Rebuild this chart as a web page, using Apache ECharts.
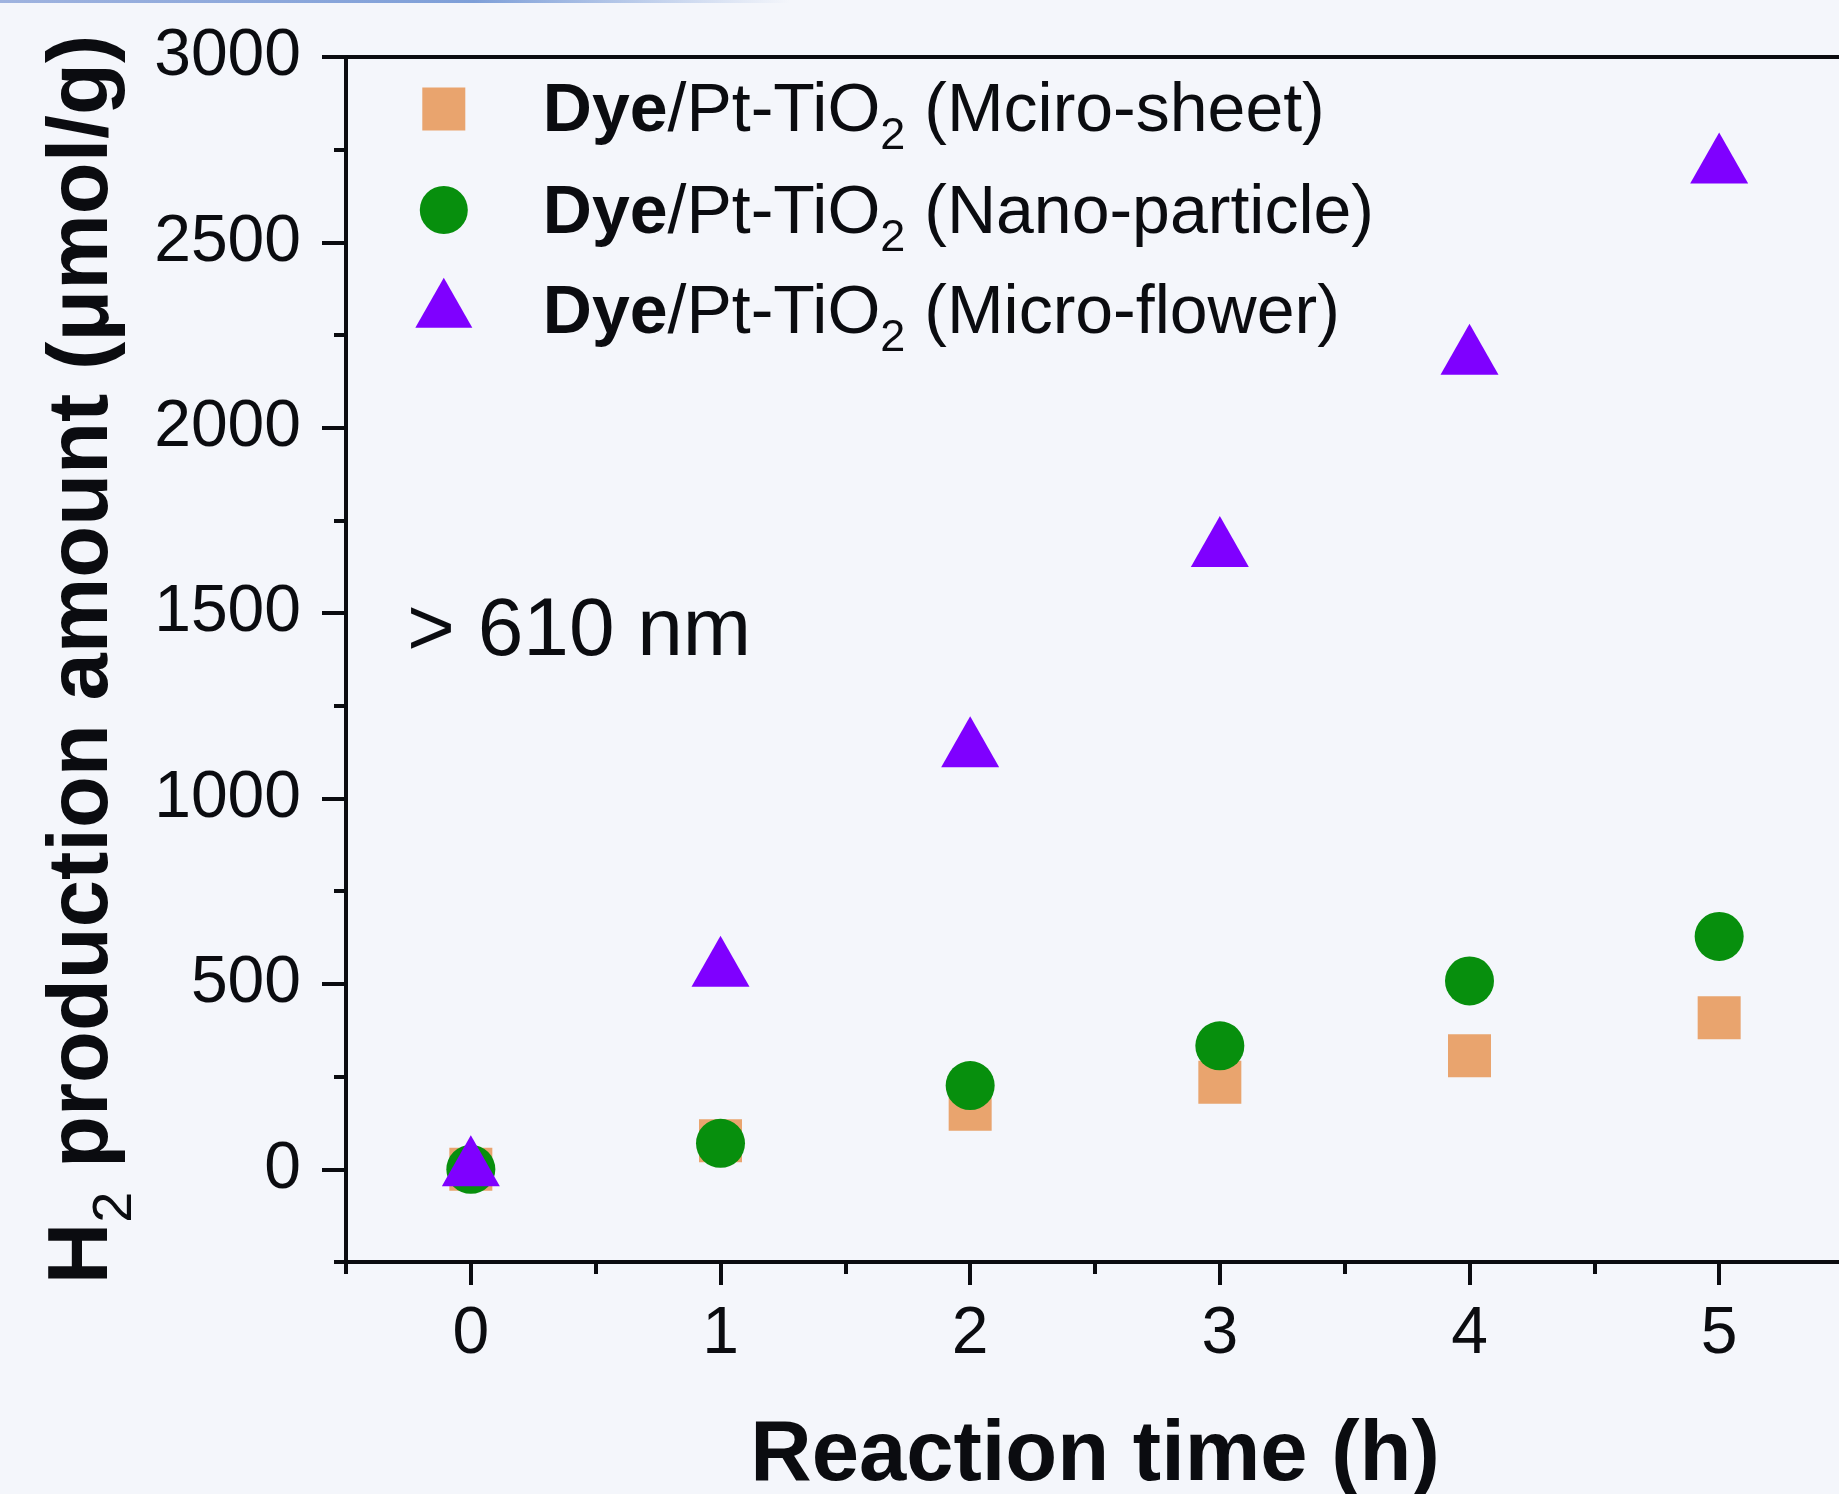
<!DOCTYPE html>
<html>
<head>
<meta charset="utf-8">
<title>H2 production</title>
<script src="https://cdn.jsdelivr.net/npm/echarts@6/dist/echarts.min.js"></script>
<style>
  html, body { margin: 0; padding: 0; background: #f4f6fb; }
  #chart { width: 1839px; height: 1494px; }
</style>
</head>
<body>
<div id="chart"></div>
<script>
// data
const times = [0, 1, 2, 3, 4, 5]
const microSheet = [0, 77, 162, 235, 306, 409]
const nanoParticle = [0, 70, 226, 333, 508, 628]
const microFlower = [0, 538, 1130, 1670, 2189, 2705]

const seriesNames = [
    'Dye/Pt-TiO2 (Mciro-sheet)',
    'Dye/Pt-TiO2 (Nano-particle)',
    'Dye/Pt-TiO2 (Micro-flower)',
]
const nameTails = [' (Mciro-sheet)', ' (Nano-particle)', ' (Micro-flower)']
const colors = ['#e9a46e', '#078f0d', '#7f00ff']

const xMajor = [0, 1, 2, 3, 4, 5]
const yMajor = [0, 500, 1000, 1500, 2000, 2500, 3000]

const FONT = 'Liberation Sans, Arial, sans-serif'
const INK = '#0b0c10'

const pairs = (ys) => times.map((t, i) => [t, ys[i]])

// one legend box per row, so each icon keeps its own size
const legendRow = (idx, left, top, icon, h, dy) => ({
    data: [{ name: seriesNames[idx], icon: icon }],
    left: left,
    top: top,
    padding: 0,
    itemWidth: 188,
    itemHeight: h,
    selectedMode: false,
    formatter: () => '{b|Dye}{r|/Pt-TiO}{s|2}{r|' + nameTails[idx] + '}',
    textStyle: {
        color: INK,
        fontFamily: FONT,
        rich: {
            b: { fontSize: 68, fontWeight: 'bold', lineHeight: 40, padding: [2 * dy, 0, 0, 0], fontFamily: FONT, color: INK },
            r: { fontSize: 68, lineHeight: 40, padding: [2 * dy, 0, 0, 0], fontFamily: FONT, color: INK },
            s: { fontSize: 45, lineHeight: 40, padding: [2 * (dy + 24), 0, 0, 0], fontFamily: FONT, color: INK },
        },
    },
})

const chart = echarts.init(document.getElementById('chart'), null, { renderer: 'canvas' })

const tickStyle = { color: INK, width: 4 }

const option = {
    backgroundColor: '#f4f6fb',
    animation: false,
    grid: {
        left: 346,
        top: 57,
        right: -5,
        bottom: 232,
        outerBoundsMode: 'none',
        containLabel: false,
        show: true,
        borderColor: INK,
        borderWidth: 4,
        backgroundColor: 'transparent',
    },
    legend: [
        legendRow(0, 422.3, 59, 'path://M0,0 L10,0 L10,10 L0,10 Z', 43, 3.5),
        legendRow(1, 419.8, 159, 'path://M0,5 A5,5 0 1,1 10,5 A5,5 0 1,1 0,5 Z', 48, 4.5),
        legendRow(2, 415.3, 244.2, 'path://M28.5,0 L57,50 L0,50 Z', 50, 12),
    ],
    xAxis: [
        {
            type: 'value',
            min: -0.5,
            max: 5.5,
            interval: 0.5,
            position: 'bottom',
            axisLine: { show: true, onZero: false, lineStyle: tickStyle },
            axisTick: { show: true, length: 12, lineStyle: tickStyle },
            axisLabel: { show: false },
            splitLine: { show: false },
        },
        {
            type: 'value',
            min: -0.5,
            max: 5.5,
            position: 'bottom',
            axisLine: { show: false, onZero: false },
            axisTick: { show: true, length: 23, customValues: xMajor, lineStyle: tickStyle },
            axisLabel: {
                show: true,
                customValues: xMajor,
                formatter: (v) => String(v),
                margin: 40,
                fontSize: 66,
                fontFamily: FONT,
                color: INK,
            },
            splitLine: { show: false },
            name: 'Reaction time (h)',
            nameLocation: 'middle',
            nameGap: 152,
            nameTextStyle: { fontSize: 85, fontWeight: 'bold', fontFamily: FONT, color: INK },
        },
    ],
    yAxis: [
        {
            type: 'value',
            min: -250,
            max: 3000,
            interval: 250,
            position: 'left',
            axisLine: { show: true, onZero: false, lineStyle: tickStyle },
            axisTick: { show: true, length: 12, lineStyle: tickStyle },
            axisLabel: { show: false },
            splitLine: { show: false },
        },
        {
            type: 'value',
            min: -250,
            max: 3000,
            position: 'left',
            axisLine: { show: false, onZero: false },
            axisTick: { show: true, length: 24, customValues: yMajor, lineStyle: tickStyle },
            axisLabel: {
                show: true,
                customValues: yMajor,
                formatter: (v) => String(v),
                margin: 45,
                fontSize: 66,
                fontFamily: FONT,
                color: INK,
            },
            splitLine: { show: false },
            name: '{h|H}{s|2}{h| production amount (μmol/g)}',
            nameLocation: 'middle',
            nameGap: 205,
            nameRotate: 90,
            nameTextStyle: {
                rich: {
                    h: { fontSize: 85, fontWeight: 'bold', lineHeight: 85, fontFamily: FONT, color: INK },
                    s: { fontSize: 56, lineHeight: 85, padding: [64, 0, 0, 0], fontFamily: FONT, color: INK },
                },
            },
        },
    ],
    graphic: [
        {
            type: 'rect',
            left: 0,
            top: 0,
            shape: { width: 790, height: 3 },
            style: {
                fill: new echarts.graphic.LinearGradient(0, 0, 1, 0, [
                    { offset: 0, color: '#9fb3df' },
                    { offset: 0.6, color: '#7e9fd8' },
                    { offset: 1, color: '#f4f6fb' },
                ]),
            },
            silent: true,
        },
        {
            type: 'text',
            x: 407,
            y: 632,
            style: {
                text: '> 610 nm',
                fontSize: 82,
                fontFamily: FONT,
                fill: INK,
                verticalAlign: 'middle',
            },
            silent: true,
        },
    ],
    series: [
        {
            name: seriesNames[0],
            type: 'scatter',
            symbol: 'rect',
            symbolSize: 43,
            itemStyle: { color: colors[0], opacity: 1 },
            data: pairs(microSheet),
        },
        {
            name: seriesNames[1],
            type: 'scatter',
            symbol: 'circle',
            symbolSize: 49,
            itemStyle: { color: colors[1], opacity: 1 },
            data: pairs(nanoParticle),
        },
        {
            name: seriesNames[2],
            type: 'scatter',
            symbol: 'triangle',
            symbolSize: [58, 51],
            symbolOffset: [0, -8.5], // centroid sits on the value, as in the source plot
            itemStyle: { color: colors[2], opacity: 1 },
            data: pairs(microFlower),
        },
    ],
}

chart.setOption(option)
window.addEventListener('resize', () => chart.resize())
</script>
</body>
</html>
